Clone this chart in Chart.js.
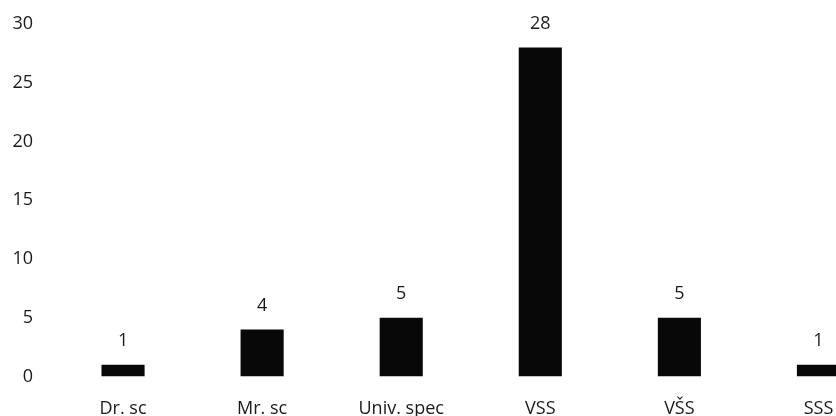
<!DOCTYPE html>
<html>
<head>
<meta charset="utf-8">
<script src="https://cdn.jsdelivr.net/npm/chart.js@4/dist/chart.umd.min.js"></script>
<style>
  html, body { margin: 0; padding: 0; background: #fff; overflow: hidden; }
  #wrap { width: 890px; height: 416px; }
</style>
</head>
<body>
<div id="wrap"><canvas id="c" width="890" height="416" style="width:890px;height:416px"></canvas></div>
<script>
const categories = ["Dr. sc", "Mr. sc", "Univ. spec", "VSS", "VŠS", "SSS"];
const values = [1, 4, 5, 28, 5, 1];
const yTicks = [0, 5, 10, 15, 20, 25, 30];

const FONT = "'Open Sans', sans-serif";
const TEXT = '#1a1a1a';

const valueLabels = {
  id: 'valueLabels',
  afterDatasetsDraw(chart) {
    const ctx = chart.ctx;
    const meta = chart.getDatasetMeta(0);
    ctx.save();
    ctx.font = "18px " + FONT;
    ctx.fillStyle = TEXT;
    ctx.textAlign = 'center';
    ctx.textBaseline = 'middle';
    meta.data.forEach((bar, i) => {
      ctx.fillText(String(values[i]), bar.x, bar.y - 24);
    });
    ctx.restore();
  }
};

new Chart(document.getElementById('c'), {
  type: 'bar',
  data: {
    labels: categories,
    datasets: [{
      data: values,
      backgroundColor: '#080808',
      borderWidth: 0,
      barPercentage: 0.31,
      categoryPercentage: 1.0
    }]
  },
  options: {
    responsive: false,
    animation: false,
    devicePixelRatio: 1,
    layout: { padding: { top: 24, right: 2, left: 0, bottom: 0 } },
    plugins: { legend: { display: false }, tooltip: { enabled: false } },
    scales: {
      x: {
        grid: { display: false, drawTicks: false },
        border: { display: false },
        ticks: { color: TEXT, font: { family: FONT, size: 18 }, padding: 21.5, maxRotation: 0, autoSkip: false },
        afterFit(s) { s.height = 39.5; s.paddingLeft = 0; s.paddingRight = 0; }
      },
      y: {
        min: 0, max: 30,
        grid: { display: false, drawTicks: false },
        border: { display: false },
        afterBuildTicks(s) { s.ticks = yTicks.map(v => ({ value: v })); },
        ticks: { color: TEXT, font: { family: FONT, size: 18 }, padding: 20.5 },
        afterFit(s) { s.width = 53.5; s.paddingTop = 0; s.paddingBottom = 0; }
      }
    }
  },
  plugins: [valueLabels]
});
</script>
</body>
</html>
